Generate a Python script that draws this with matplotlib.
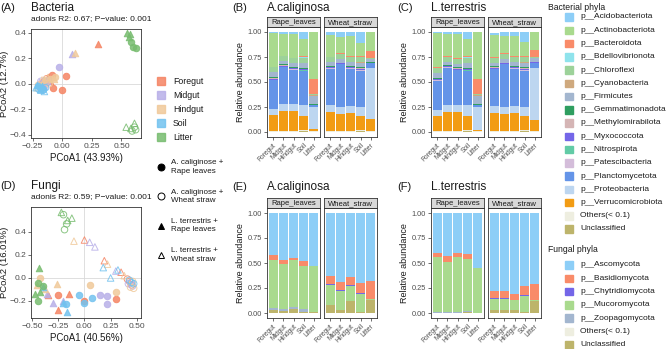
import matplotlib
matplotlib.use("Agg")
import matplotlib.pyplot as plt
from matplotlib.patches import Rectangle

plt.rcParams['font.family'] = ['Liberation Sans', 'DejaVu Sans']

W, H = 667, 349

# ---- data ----
compartments = ["Foregut", "Midgut", "Hindgut", "Soil", "Litter"]
comp_colors = ["#F58463", "#B8AFE8", "#F0C99A", "#72C2EF", "#77BC6F"]
treatments = ["AR", "AW", "LR", "LW"]
treat_labels = ["A. caliginose +\nRape leaves", "A. caliginose +\nWheat straw",
                "L. terrestris +\nRape leaves", "L. terrestris +\nWheat straw"]

# PCoA points: compartment -> [AR, AW, LR, LW] lists of (x, y)
bac_points = {
    "Foregut": [[(0.03, 0.06), (0.00, -0.05), (-0.08, -0.03), (-0.09, 0.07)],
                [(-0.17, -0.01), (-0.15, 0.02), (-0.13, 0.04)],
                [(0.30, 0.31), (-0.12, 0.05), (-0.10, 0.02)],
                [(-0.18, 0.00), (-0.16, -0.03), (-0.14, 0.01)]],
    "Midgut": [[(-0.03, 0.13), (-0.12, 0.03), (-0.15, 0.01)],
               [(-0.18, 0.02), (-0.17, 0.00), (-0.14, -0.01)],
               [(0.08, 0.23), (-0.16, 0.03), (-0.13, 0.02)],
               [(-0.19, 0.01), (-0.16, 0.01), (-0.15, -0.02)]],
    "Hindgut": [[(-0.06, 0.05), (-0.10, 0.04), (-0.19, -0.02)],
                [(-0.20, -0.01), (-0.13, 0.02), (-0.11, 0.00)],
                [(0.11, 0.24), (-0.07, 0.04), (-0.15, 0.04)],
                [(-0.21, -0.03), (-0.17, 0.03), (-0.12, 0.05)]],
    "Soil": [[(-0.20, -0.02), (-0.18, -0.03), (-0.16, -0.04)],
             [(-0.20, -0.04), (-0.16, -0.05), (-0.14, -0.03)],
             [(-0.21, -0.01), (-0.19, -0.04), (-0.17, -0.02)],
             [(-0.22, -0.03), (-0.18, -0.05), (-0.15, -0.06)]],
    "Litter": [[(0.58, 0.33), (0.60, 0.29), (0.62, 0.28)],
               [(0.59, -0.37), (0.61, -0.34), (0.62, -0.36)],
               [(0.55, 0.40), (0.57, 0.39), (0.56, 0.37)],
               [(0.54, -0.34), (0.58, -0.35), (0.61, -0.31)]],
}

fun_points = {
    "Foregut": [[(-0.25, -0.15), (0.00, -0.20), (0.30, -0.18)],
                [(0.43, -0.03), (0.45, -0.06), (0.41, -0.01)],
                [(-0.35, -0.15), (-0.15, -0.14), (-0.25, -0.28)],
                [(0.00, 0.33), (0.19, 0.15), (0.35, 0.05)]],
    "Midgut": [[(0.15, -0.15), (0.22, -0.16), (0.22, -0.23)],
               [(0.42, -0.05), (0.44, -0.04), (0.46, -0.07)],
               [(-0.20, -0.20), (-0.30, -0.22), (-0.36, -0.14)],
               [(0.05, 0.31), (0.10, 0.27), (0.30, 0.06)]],
    "Hindgut": [[(-0.42, 0.00), (0.05, -0.06), (0.30, -0.12)],
                [(0.47, -0.09), (0.44, -0.08), (0.46, -0.03)],
                [(-0.26, -0.05), (-0.45, -0.06), (-0.38, -0.10)],
                [(-0.10, 0.32), (0.22, 0.12), (0.38, 0.02)]],
    "Soil": [[(-0.05, -0.15), (0.07, -0.17), (0.00, -0.22), (-0.18, -0.23)],
             [(0.45, -0.04), (0.47, -0.05), (0.43, -0.02)],
             [(-0.17, -0.30), (-0.20, -0.22), (-0.40, -0.08)],
             [(0.18, 0.09), (0.32, 0.07), (0.25, 0.00)]],
    "Litter": [[(-0.44, -0.04), (-0.40, -0.07), (-0.44, -0.20)],
               [(-0.20, 0.55), (-0.17, 0.47), (-0.19, 0.42)],
               [(-0.43, 0.09), (-0.47, -0.14), (-0.42, -0.12)],
               [(-0.12, 0.52), (-0.22, 0.57), (-0.16, 0.50)]],
}

bac_phyla = ["p__Acidobacteriota", "p__Actinobacteriota", "p__Bacteroidota",
             "p__Bdellovibrionota", "p__Chloroflexi", "p__Cyanobacteria",
             "p__Firmicutes", "p__Gemmatimonadota", "p__Methylomirabilota",
             "p__Myxococcota", "p__Nitrospirota", "p__Patescibacteria",
             "p__Planctomycetota", "p__Proteobacteria", "p__Verrucomicrobiota",
             "Others(< 0.1)", "Unclassified"]
bac_colors = ["#8DCEF7", "#A9DA8E", "#F98B69", "#8FE3EC", "#9DD29A", "#CFA97E",
              "#A3B6CF", "#2F9E60", "#D5B5B5", "#7466E8", "#62CBA6", "#D4BDDA",
              "#6494E8", "#BDD6F0", "#F29C14", "#EEEEE0", "#BDB46B"]

fun_phyla = ["p__Ascomycota", "p__Basidiomycota", "p__Chytridiomycota",
             "p__Mucoromycota", "p__Zoopagomycota", "Others(< 0.1)", "Unclassified"]
fun_colors = ["#8DCEF7", "#F98B69", "#7466E8", "#A9DA8E", "#A3B6CF", "#EEEEE0", "#BDB46B"]

# relative abundance, one list per compartment, phyla in legend order
acal_rape_bac = [
    [.010, .335, .005, 0, .050, 0, .050, .010, .005, .010, 0, .005, .290, .060, .160, .005, .005],
    [.020, .215, .005, 0, .050, 0, .030, .010, .005, .010, 0, .005, .370, .070, .200, .005, .005],
    [.020, .235, .005, 0, .050, 0, .035, .010, .005, .010, 0, .005, .345, .070, .200, .005, .005],
    [.070, .170, .010, .005, .050, .005, .045, .010, .005, .010, .005, .005, .340, .110, .140, .010, .010],
    [0, .465, .150, 0, .015, .005, .085, .005, 0, .005, 0, 0, .015, .225, .020, .005, .005],
]
acal_wheat_bac = [
    [.030, .215, .005, 0, .050, 0, .035, .010, .005, .010, 0, .005, .365, .070, .190, .005, .005],
    [.050, .160, .005, 0, .050, 0, .040, .005, 0, .005, 0, .005, .430, .070, .170, .005, .005],
    [.040, .200, .005, 0, .050, 0, .045, .010, 0, .010, 0, .005, .375, .070, .180, .005, .005],
    [.110, .125, .010, .005, .050, .005, .045, .010, .005, .010, .005, .005, .365, .090, .140, .010, .010],
    [0, .190, .070, 0, .010, 0, .030, .005, 0, .005, 0, 0, .050, .510, .120, .005, .005],
]
lter_rape_bac = [
    [.010, .340, .005, 0, .050, 0, .050, .010, .005, .010, 0, .005, .295, .060, .150, .005, .005],
    [.020, .220, .005, 0, .050, 0, .030, .010, .005, .010, 0, .005, .370, .070, .195, .005, .005],
    [.020, .240, .005, 0, .050, 0, .035, .010, .005, .010, 0, .005, .345, .070, .195, .005, .005],
    [.070, .170, .010, .005, .050, .005, .045, .010, .005, .010, .005, .005, .340, .110, .140, .010, .010],
    [0, .465, .150, 0, .015, .005, .085, .005, 0, .005, 0, 0, .015, .230, .015, .005, .005],
]
lter_wheat_bac = [
    [.020, .225, .005, 0, .050, 0, .035, .010, .005, .010, 0, .005, .370, .070, .180, .005, .005],
    [.040, .170, .005, 0, .050, 0, .040, .005, 0, .005, 0, .005, .430, .070, .170, .005, .005],
    [.040, .200, .005, 0, .050, 0, .045, .010, 0, .010, 0, .005, .375, .070, .180, .005, .005],
    [.100, .135, .010, .005, .050, .005, .045, .010, .005, .010, .005, .005, .365, .090, .140, .010, .010],
    [0, .180, .070, 0, .010, 0, .035, .005, 0, .005, 0, 0, .055, .520, .110, .005, .005],
]

acal_rape_fun = [
    [.415, .050, 0, .480, .025, 0, .030],
    [.465, .045, 0, .450, .020, 0, .020],
    [.445, .020, 0, .475, .020, 0, .040],
    [.475, .055, 0, .430, .030, 0, .010],
    [.530, 0, 0, .460, 0, 0, .010],
]
acal_wheat_fun = [
    [.630, .075, .010, .205, 0, 0, .080],
    [.685, .085, .010, .185, 0, 0, .035],
    [.640, .075, .010, .150, 0, 0, .125],
    [.700, .095, .010, .185, 0, 0, .010],
    [.680, .175, 0, .010, 0, 0, .135],
]
lter_rape_fun = [
    [.395, .045, 0, .550, .005, 0, .005],
    [.430, .055, 0, .505, .005, 0, .005],
    [.395, .040, 0, .555, .005, 0, .005],
    [.410, .045, 0, .525, .010, 0, .010],
    [.550, 0, 0, .450, 0, 0, 0],
]
lter_wheat_fun = [
    [.780, .070, .010, .110, 0, 0, .030],
    [.780, .065, .010, .115, 0, 0, .030],
    [.805, .065, 0, .095, 0, 0, .035],
    [.730, .085, .010, .165, 0, 0, .010],
    [.710, .155, 0, .015, 0, 0, .120],
]

# ---- helpers ----
fig = plt.figure(figsize=(W / 100, H / 100), dpi=100)

TXT = "#1A1A1A"
TICK = "#4D4D4D"
FRAME = "#333333"


def px_axes(l, t, r, b):
    return fig.add_axes([l / W, 1 - b / H, (r - l) / W, (b - t) / H])


def px_text(x, y, s, **kw):
    kw.setdefault("color", TXT)
    fig.text(x / W, 1 - y / H, s, **kw)


def style_frame(ax, size=6):
    for sp in ax.spines.values():
        sp.set_color(FRAME)
        sp.set_linewidth(0.6)
    ax.tick_params(length=2, width=0.5, color=FRAME, labelsize=size, labelcolor=TICK, pad=1.5)


def pcoa_panel(box, points, xlim, ylim, xticks, xlabels, yticks, ylabels, xl, yl):
    ax = px_axes(*box)
    ax.axhline(0, color="#D9D9D9", lw=0.6, zorder=0)
    ax.axvline(0, color="#D9D9D9", lw=0.6, zorder=0)
    for comp, col in zip(compartments, comp_colors):
        for ti, grp in enumerate(points[comp]):
            xs = [p[0] for p in grp]
            ys = [p[1] for p in grp]
            marker = "o" if ti < 2 else "^"
            filled = ti in (0, 2)
            ax.scatter(xs, ys, s=22, marker=marker, alpha=0.85,
                       facecolor=col if filled else "none", edgecolor=col,
                       linewidths=0.7, zorder=2)
    ax.set_xlim(*xlim)
    ax.set_ylim(*ylim)
    ax.set_xticks(xticks)
    ax.set_xticklabels(xlabels)
    ax.set_yticks(yticks)
    ax.set_yticklabels(ylabels)
    ax.set_xlabel(xl, fontsize=7, color=TXT, labelpad=2)
    style_frame(ax, 6)
    t, b = box[1], box[3]
    px_text(5, (t + b) / 2, yl, fontsize=6.8, rotation=90, ha="center", va="center")
    return ax


def bar_facet(box, data, colors, label, show_y):
    l, t, r, b = box
    ax = px_axes(l, t + 10, r, b)
    xs = range(1, len(compartments) + 1)
    for i, vals in enumerate(data):
        bottom = 0.0
        for j in range(len(vals) - 1, -1, -1):
            if vals[j] > 0:
                ax.bar(xs[i], vals[j], bottom=bottom, width=0.9,
                       color=colors[j], linewidth=0)
            bottom += vals[j]
    ax.set_xlim(0.4, 5.6)
    ax.set_ylim(-0.05, 1.05)
    ax.set_xticks(list(xs))
    ax.set_xticklabels(compartments, rotation=45, ha="right",
                       rotation_mode="anchor")
    ax.set_yticks([0, 0.25, 0.5, 0.75, 1.0])
    style_frame(ax, 5.3)
    ax.tick_params(axis="x", labelsize=4.8)
    if show_y:
        ax.set_yticklabels(["0.00", "0.25", "0.50", "0.75", "1.00"])
        ax.set_ylabel("Relative abundance", fontsize=6.5, color=TXT, labelpad=2)
    else:
        ax.tick_params(axis="y", left=False, labelleft=False)
    st = px_axes(l, t, r, t + 10)
    st.set_facecolor("#D9D9D9")
    st.set_xticks([])
    st.set_yticks([])
    for sp in st.spines.values():
        sp.set_color(FRAME)
        sp.set_linewidth(0.6)
    st.text(0.5, 0.45, label, ha="center", va="center", fontsize=5.5, color=TXT,
            transform=st.transAxes)


# ---- panel A / D ----
px_text(0, 8, "(A)", fontsize=8, va="center")
px_text(31, 8, "Bacteria", fontsize=8.5, va="center")
px_text(31, 19, "adonis R2: 0.67; P\u2212value: 0.001", fontsize=6, va="center")
pcoa_panel((31, 29, 141, 138), bac_points, (-0.263, 0.665), (-0.425, 0.43),
           [-0.25, 0, 0.25, 0.5], ["\u22120.25", "0.00", "0.25", "0.50"],
           [-0.4, -0.2, 0, 0.2, 0.4], ["\u22120.4", "\u22120.2", "0.0", "0.2", "0.4"],
           "PCoA1 (43.93%)", "PCoA2 (12.7%)")

px_text(0, 186, "(D)", fontsize=8, va="center")
px_text(31, 186, "Fungi", fontsize=8.5, va="center")
px_text(31, 197, "adonis R2: 0.59; P\u2212value: 0.001", fontsize=6, va="center")
pcoa_panel((31, 207, 141, 318), fun_points, (-0.51, 0.54), (-0.348, 0.617),
           [-0.5, -0.25, 0, 0.25, 0.5], ["\u22120.50", "\u22120.25", "0.00", "0.25", "0.50"],
           [-0.2, 0, 0.2, 0.4], ["\u22120.2", "0.0", "0.2", "0.4"],
           "PCoA1 (40.56%)", "PCoA2 (16.01%)")

# compartment legend
for k, (comp, col) in enumerate(zip(compartments, comp_colors)):
    y = 81 + k * 14
    fig.patches.append(Rectangle((157 / W, 1 - (y + 4) / H), 8 / W, 8 / H,
                                 transform=fig.transFigure, color=col, alpha=0.85))
    px_text(173, y, comp, fontsize=6.3, va="center")

# treatment legend
for k, lab in enumerate(treat_labels):
    y = 167 + k * 29.3
    marker = "o" if k < 2 else "^"
    filled = k in (0, 2)
    fig.lines.append(plt.Line2D([161 / W], [1 - y / H], marker=marker, markersize=5,
                                markerfacecolor="black" if filled else "none",
                                markeredgecolor="black", markeredgewidth=0.7,
                                linestyle="none", transform=fig.transFigure))
    px_text(171, y, lab, fontsize=5.8, va="center", linespacing=1.25)

# ---- bar panels ----
px_text(232, 8, "(B)", fontsize=8, va="center")
px_text(267, 8, "A.caliginosa", fontsize=8.5, va="center")
bar_facet((267, 17, 320, 137), acal_rape_bac, bac_colors, "Rape_leaves", True)
bar_facet((324, 17, 377, 137), acal_wheat_bac, bac_colors, "Wheat_straw", False)

px_text(397, 8, "(C)", fontsize=8, va="center")
px_text(431, 8, "L.terrestris", fontsize=8.5, va="center")
bar_facet((431, 17, 484, 137), lter_rape_bac, bac_colors, "Rape_leaves", True)
bar_facet((488, 17, 541, 137), lter_wheat_bac, bac_colors, "Wheat_straw", False)

px_text(232, 187, "(E)", fontsize=8, va="center")
px_text(267, 187, "A.caliginosa", fontsize=8.5, va="center")
bar_facet((267, 198, 320, 318), acal_rape_fun, fun_colors, "Rape_leaves", True)
bar_facet((324, 198, 377, 318), acal_wheat_fun, fun_colors, "Wheat_straw", False)

px_text(397, 187, "(F)", fontsize=8, va="center")
px_text(431, 187, "L.terrestris", fontsize=8.5, va="center")
bar_facet((431, 198, 484, 318), lter_rape_fun, fun_colors, "Rape_leaves", True)
bar_facet((488, 198, 541, 318), lter_wheat_fun, fun_colors, "Wheat_straw", False)

# ---- phyla legends ----
px_text(548, 8, "Bacterial phyla", fontsize=6.2, va="center")
for k, (name, col) in enumerate(zip(bac_phyla, bac_colors)):
    y = 17 + k * 13.25
    fig.patches.append(Rectangle((565 / W, 1 - (y + 3.75) / H), 7.5 / W, 7.5 / H,
                                 transform=fig.transFigure, color=col))
    px_text(580, y, name, fontsize=6.0, va="center")

px_text(548, 250, "Fungal phyla", fontsize=6.2, va="center")
for k, (name, col) in enumerate(zip(fun_phyla, fun_colors)):
    y = 265 + k * 13.3
    fig.patches.append(Rectangle((565 / W, 1 - (y + 3.75) / H), 7.5 / W, 7.5 / H,
                                 transform=fig.transFigure, color=col))
    px_text(580, y, name, fontsize=6.0, va="center")

fig.savefig("out.png", dpi=100)
